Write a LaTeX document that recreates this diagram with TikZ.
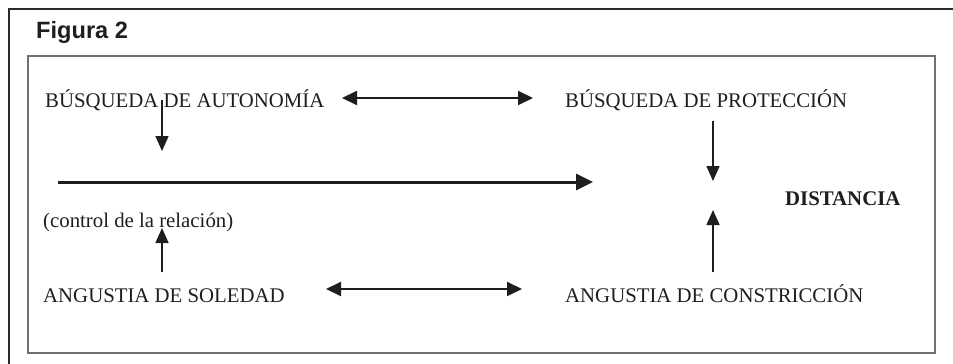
\documentclass[tikz,border=0pt]{standalone}
\usepackage{fontspec}
\setmainfont{Liberation Serif}
\newfontfamily\figfont{Liberation Sans}
\usetikzlibrary{arrows.meta}
\definecolor{ink}{HTML}{1E1E1E}
\definecolor{framegray}{HTML}{707070}
\definecolor{outerc}{HTML}{2A2A2A}
\tikzset{
  lbl/.style={anchor=base west, inner sep=0pt, text=ink, font=\fontsize{20.8}{24}\selectfont},
  arr/.style={draw=ink, line width=1.6pt, -{Triangle[length=15pt,width=13pt]}},
  darr/.style={draw=ink, line width=2pt, {Triangle[length=15pt,width=14pt]}-{Triangle[length=15pt,width=14pt]}},
}
\begin{document}
\begin{tikzpicture}[x=1pt,y=-1pt]
\useasboundingbox (0,0) rectangle (953,364);
\fill[white] (0,0) rectangle (953,364);
% frames
\draw[outerc, line width=2.5pt] (9,364) -- (9,9) -- (953,9);
\draw[framegray, line width=1.6pt] (28,56) rectangle (935,353);
\node[anchor=base west, inner sep=0pt, text=ink, font=\figfont\bfseries\fontsize{23.6}{28}\selectfont] (fig) at (36,38) {Figura 2};
% labels
\node[lbl] (ba) at (45,107) {BÚSQUEDA DE AUTONOMÍA};
\node[lbl] (bp) at (565,107) {BÚSQUEDA DE PROTECCIÓN};
\node[lbl, font=\bfseries\fontsize{20.8}{24}\selectfont] (dist) at (785,205) {DISTANCIA};
\node[lbl] (ctrl) at (43,227) {(control de la relación)};
\node[lbl] (as) at (43,302) {ANGUSTIA DE SOLEDAD};
\node[lbl] (ac) at (565,302) {ANGUSTIA DE CONSTRICCIÓN};
% coordinates
\coordinate (t1) at (342,98);
\coordinate (t2) at (533,98);
\coordinate (b1) at (326,289);
\coordinate (b2) at (522,289);
\coordinate (ld1) at (162,100);
\coordinate (ld2) at (162,151);
\coordinate (lu1) at (162,272);
\coordinate (lu2) at (162,228);
\coordinate (rd1) at (713,121);
\coordinate (rd2) at (713,181);
\coordinate (ru1) at (713,272);
\coordinate (ru2) at (713,210);
\coordinate (h1) at (58,182);
\coordinate (h2) at (593,182);
% arrows
\draw[darr] (t1) -- (t2);
\draw[darr] (b1) -- (b2);
\draw[arr] (ld1) -- (ld2);
\draw[arr] (lu1) -- (lu2);
\draw[arr] (rd1) -- (rd2);
\draw[arr] (ru1) -- (ru2);
\draw[draw=ink, line width=3pt, -{Triangle[length=17pt,width=16pt]}] (h1) -- (h2);
\end{tikzpicture}
\end{document}
